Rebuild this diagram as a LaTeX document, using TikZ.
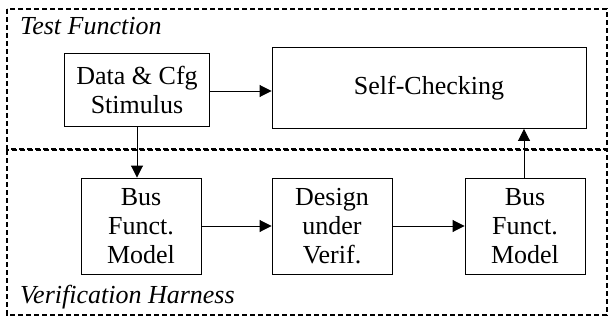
\documentclass[tikz,border=0pt]{standalone}
\usepackage{fontspec}
\setmainfont{Liberation Serif}
\usetikzlibrary{arrows.meta}
\begin{document}
\begin{tikzpicture}[x=1pt,y=-1pt,
  frame/.style={draw, line width=1.6pt, dash pattern=on 5pt off 3pt},
  blk/.style={draw, line width=0.9pt, align=center, font=\fontsize{26}{29}\selectfont, inner sep=0pt},
  lbl/.style={font=\fontsize{26}{29}\selectfont\itshape, anchor=base west, inner sep=0pt},
  arr/.style={line width=0.9pt, -{Triangle[length=12pt,width=12pt]}}]
\useasboundingbox (0,0) rectangle (611,321);
\draw[frame] (7,9) rectangle (607,149);
\draw[frame] (7,150.2) rectangle (607,315);
\node[lbl] (tf) at (20,35) {Test Function};
\node[lbl] (vh) at (20,303) {Verification Harness};
\node[blk, minimum width=145pt, minimum height=73pt] (data) at (137,90) {Data \& Cfg\\Stimulus};
\node[blk, minimum width=314pt, minimum height=81pt] (sc) at (429,88) {Self-Checking};
\node[blk, minimum width=120pt, minimum height=96pt] (bus1) at (141,226) {Bus\\Funct.\\Model};
\node[blk, minimum width=120pt, minimum height=96pt] (dut) at (332,226) {Design\\under\\Verif.};
\node[blk, minimum width=120pt, minimum height=96pt] (bus2) at (525,226) {Bus\\Funct.\\Model};
\draw[arr] (data.east |- 0,91) -- (sc.west |- 0,91);
\draw[arr] (data.south -| 137,0) -- (bus1.north -| 137,0);
\draw[arr] (bus1.east) -- (dut.west);
\draw[arr] (dut.east) -- (bus2.west);
\draw[arr] (bus2.north -| 524,0) -- (sc.south -| 524,0);
\end{tikzpicture}
\end{document}
